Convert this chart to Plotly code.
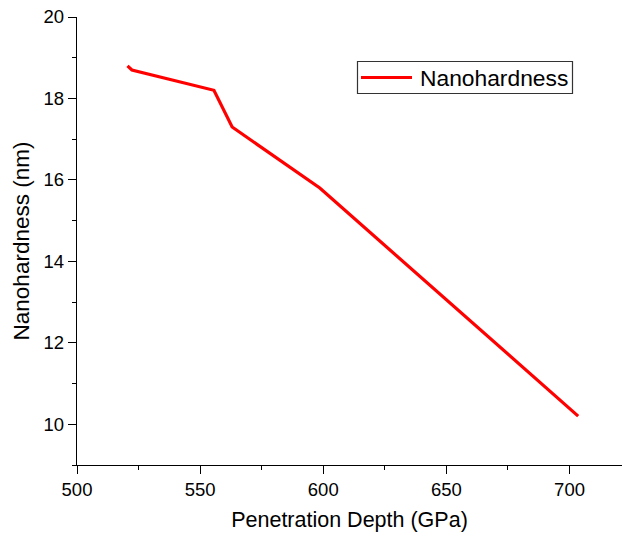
import plotly.graph_objects as go

# Penetration depth vs nanohardness curve
depth = [520.5, 522.3, 555.6, 563.0, 598.6, 703.5]
hardness = [18.80, 18.70, 18.20, 17.30, 15.80, 10.20]
series_name = "Nanohardness"

FONT = "Liberation Sans, Arial, sans-serif"
W, H = 622, 537
L, R, T, B = 77, 0, 17, 72

fig = go.Figure()
fig.add_trace(go.Scatter(
    x=depth, y=hardness, mode="lines", name=series_name,
    line=dict(color="#ff0000", width=3.2), showlegend=False,
))

axis_common = dict(
    showline=True, linecolor="black", linewidth=1.3,
    ticks="outside", ticklen=8, tickwidth=1.3, tickcolor="black",
    showgrid=False, zeroline=False, mirror=False,
    tickfont=dict(family=FONT, size=18.5, color="black"),
)

fig.update_xaxes(
    range=[500, 721.3], dtick=50, tick0=500,
    minor=dict(ticks="outside", ticklen=4, tickwidth=1.3, tickcolor="black", dtick=25),
    title=dict(text="Penetration Depth (GPa)", font=dict(family=FONT, size=21.5, color="black"), standoff=12),
    **axis_common,
)
fig.update_yaxes(
    range=[9, 20], dtick=2, tick0=10,
    minor=dict(ticks="outside", ticklen=4, tickwidth=1.3, tickcolor="black", dtick=1, tick0=9),
    title=dict(text="Nanohardness (nm)", font=dict(family=FONT, size=22.5, color="black"), standoff=7),
    **axis_common,
)

# Legend box drawn in paper coordinates
pw, ph = W - L - R, H - T - B
def px(x):
    return (x - L) / pw
def py(y):
    return (H - B - y) / ph

fig.add_shape(type="rect", xref="paper", yref="paper",
              x0=px(357.5), x1=px(572.5), y0=py(93.5), y1=py(61.5),
              line=dict(color="#333333", width=1.2), fillcolor="white")
fig.add_shape(type="line", xref="paper", yref="paper",
              x0=px(361), x1=px(412), y0=py(77.5), y1=py(77.5),
              line=dict(color="#ff0000", width=3.2))
fig.add_annotation(xref="paper", yref="paper", x=px(418), y=py(77.5),
                   xanchor="left", yanchor="middle", showarrow=False,
                   text=series_name, font=dict(family=FONT, size=22.8, color="black"))

fig.update_layout(
    width=W, height=H,
    margin=dict(l=L, r=R, t=T, b=B),
    paper_bgcolor="white", plot_bgcolor="white",
)

fig.write_html("out.html")
